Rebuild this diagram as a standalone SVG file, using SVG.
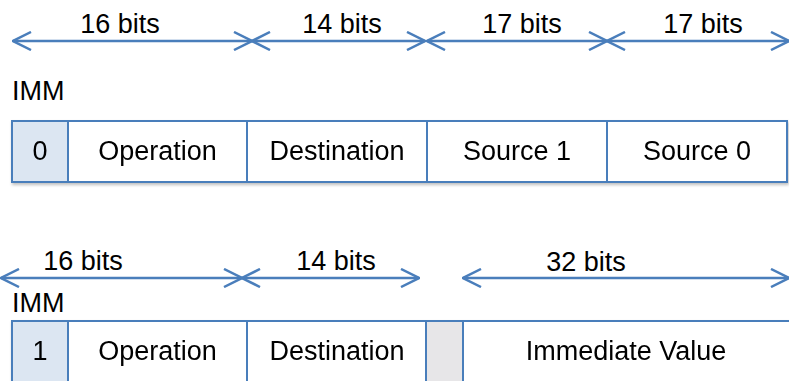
<svg xmlns="http://www.w3.org/2000/svg" width="789" height="381" viewBox="0 0 789 381">
<defs>
<style>
.t{font-family:"Liberation Sans",Arial,sans-serif;font-size:27px;fill:#000}
.c{text-anchor:middle}
.box{fill:#fff;stroke:#4a7ebb;stroke-width:2}
.imm{fill:#dce6f2;stroke:#4a7ebb;stroke-width:2}
.gap{fill:#e7e6e8;stroke:#4a7ebb;stroke-width:2}
.arr{stroke:#4a7ebb;stroke-width:2.5;fill:none;marker-start:url(#ah);marker-end:url(#ah)}
</style>
<marker id="ah" viewBox="0 0 20 20" refX="19" refY="10" markerWidth="20" markerHeight="20" markerUnits="userSpaceOnUse" orient="auto-start-reverse">
<path d="M1,1 L19,10 L1,19" fill="none" stroke="#4a7ebb" stroke-width="2.5"/>
</marker>
<filter id="sh" x="-10%" y="-10%" width="130%" height="140%">
<feDropShadow dx="1" dy="2" stdDeviation="1.5" flood-color="#000" flood-opacity="0.25"/>
</filter>
</defs>
<rect width="789" height="381" fill="#fff"/>
<g id="connectors">
<path class="arr" d="M13,41 H252"/>
<path class="arr" d="M252,41 H425"/>
<path class="arr" d="M427,41 H607"/>
<path class="arr" d="M607,41 H789"/>
<path class="arr" d="M1,278 H242"/>
<path class="arr" d="M242,278 H419"/>
<path class="arr" d="M463,278 H789"/>
</g>
<g id="labels">
<text class="t c" x="120" y="33">16 bits</text>
<text class="t c" x="342" y="33">14 bits</text>
<text class="t c" x="522" y="33">17 bits</text>
<text class="t c" x="703" y="33">17 bits</text>
<text class="t" x="12" y="100">IMM</text>
<text class="t c" x="83" y="270">16 bits</text>
<text class="t c" x="336" y="270">14 bits</text>
<text class="t c" x="586" y="271">32 bits</text>
<text class="t" x="12" y="312">IMM</text>
</g>
<g id="row1" filter="url(#sh)">
<g id="r1-imm"><rect class="imm" x="12" y="121" width="56" height="61"/><text class="t c" x="40" y="160">0</text></g>
<g id="r1-op"><rect class="box" x="68" y="121" width="179" height="61"/><text class="t c" x="157.5" y="160">Operation</text></g>
<g id="r1-dst"><rect class="box" x="247" y="121" width="180" height="61"/><text class="t c" x="337" y="160">Destination</text></g>
<g id="r1-src1"><rect class="box" x="427" y="121" width="180" height="61"/><text class="t c" x="517" y="160">Source 1</text></g>
<g id="r1-src0"><rect class="box" x="607" y="121" width="180" height="61"/><text class="t c" x="697" y="160">Source 0</text></g>
</g>
<g id="row2" filter="url(#sh)">
<g id="r2-imm"><rect class="imm" x="12" y="321" width="56" height="80"/><text class="t c" x="40" y="360">1</text></g>
<g id="r2-op"><rect class="box" x="68" y="321" width="179" height="80"/><text class="t c" x="157.5" y="360">Operation</text></g>
<g id="r2-dst"><rect class="box" x="247" y="321" width="179" height="80"/><text class="t c" x="337" y="360">Destination</text></g>
<g id="r2-gap"><rect class="gap" x="426" y="321" width="37" height="80"/></g>
<g id="r2-val"><rect class="box" x="463" y="321" width="340" height="80"/><text class="t c" x="626" y="360">Immediate Value</text></g>
</g>
</svg>
